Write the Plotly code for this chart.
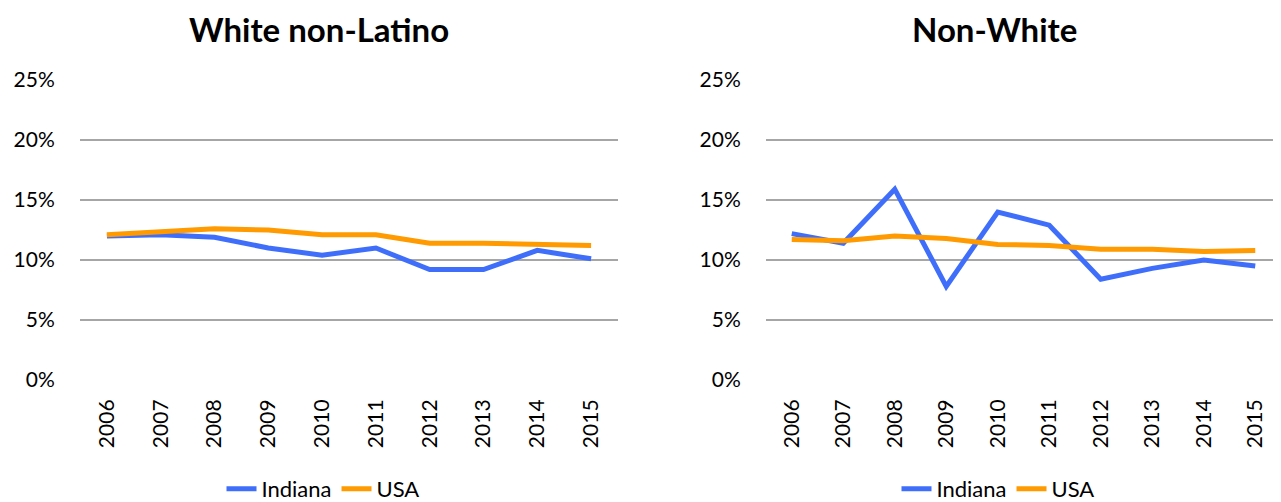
import plotly.graph_objects as go

years = ["2006", "2007", "2008", "2009", "2010", "2011", "2012", "2013", "2014", "2015"]
white_indiana = [0.120, 0.121, 0.119, 0.110, 0.104, 0.110, 0.092, 0.092, 0.108, 0.101]
white_usa = [0.121, 0.123, 0.126, 0.125, 0.121, 0.121, 0.114, 0.114, 0.113, 0.112]
nonwhite_indiana = [0.122, 0.114, 0.159, 0.078, 0.140, 0.129, 0.084, 0.093, 0.100, 0.095]
nonwhite_usa = [0.117, 0.116, 0.120, 0.118, 0.113, 0.112, 0.109, 0.109, 0.107, 0.108]
titles = ["White non-Latino", "Non-White"]

# page body has an 8px margin; figure is sized/positioned to compensate
OFF = 8
W, H = 1281 - OFF, 502 - OFF
BLUE = "#3F6EFA"
ORANGE = "#FF9A00"
FONT = "Lato, Liberation Sans, sans-serif"

def px(x):
    return (x - OFF) / W

def py(y):
    return 1 - (y - OFF) / H

fig = go.Figure()
fig.add_trace(go.Scatter(x=years, y=white_indiana, name="Indiana", mode="lines",
                         line=dict(color=BLUE, width=5), xaxis="x", yaxis="y", legend="legend"))
fig.add_trace(go.Scatter(x=years, y=white_usa, name="USA", mode="lines",
                         line=dict(color=ORANGE, width=5), xaxis="x", yaxis="y", legend="legend"))
fig.add_trace(go.Scatter(x=years, y=nonwhite_indiana, name="Indiana", mode="lines",
                         line=dict(color=BLUE, width=5), xaxis="x2", yaxis="y2", legend="legend2"))
fig.add_trace(go.Scatter(x=years, y=nonwhite_usa, name="USA", mode="lines",
                         line=dict(color=ORANGE, width=5), xaxis="x2", yaxis="y2", legend="legend2"))

ydom = [py(380), py(80)]
xcommon = dict(type="category", range=[-0.5, 9.5], tickangle=-90, showgrid=False,
               zeroline=False, showline=False, ticks="outside", ticklen=10, automargin=False,
               tickcolor="rgba(0,0,0,0)", tickfont=dict(family=FONT, size=21, color="#000"))
ycommon = dict(range=[0, 0.25], dtick=0.05, tickformat=".0%", showgrid=True,
               gridcolor="#A6A6A6", gridwidth=1.6, zeroline=False, showline=False,
               ticks="outside", ticklen=20, tickcolor="rgba(0,0,0,0)", automargin=False,
               tickfont=dict(family=FONT, size=21, color="#000"))

legcommon = dict(orientation="h", xref="container", yref="container",
                 xanchor="center", yanchor="middle", bgcolor="rgba(0,0,0,0)",
                 font=dict(family=FONT, size=22, color="#000"))

fig.update_layout(
    width=W, height=H,
    margin=dict(l=0, r=0, t=0, b=0, autoexpand=False),
    paper_bgcolor="white", plot_bgcolor="white",
    font=dict(family=FONT, color="#000"),
    xaxis=dict(domain=[px(80), px(618)], anchor="y", **xcommon),
    yaxis=dict(domain=ydom, anchor="x", **ycommon),
    xaxis2=dict(domain=[px(766), 1.0], anchor="y2", **xcommon),
    yaxis2=dict(domain=ydom, anchor="x2", **ycommon),
    legend=dict(x=px(323), y=py(489), **legcommon),
    legend2=dict(x=px(998), y=py(489), **legcommon),
    annotations=[
        dict(text="<b>" + titles[0] + "</b>", x=px(319), y=1.0, xref="paper", yref="paper",
             showarrow=False, xanchor="center", yanchor="top", borderpad=0,
             font=dict(family=FONT, size=33, color="#000")),
        dict(text="<b>" + titles[1] + "</b>", x=px(994), y=1.0, xref="paper", yref="paper",
             showarrow=False, xanchor="center", yanchor="top", borderpad=0,
             font=dict(family=FONT, size=33, color="#000")),
    ],
)

fig.write_html("out.html")
